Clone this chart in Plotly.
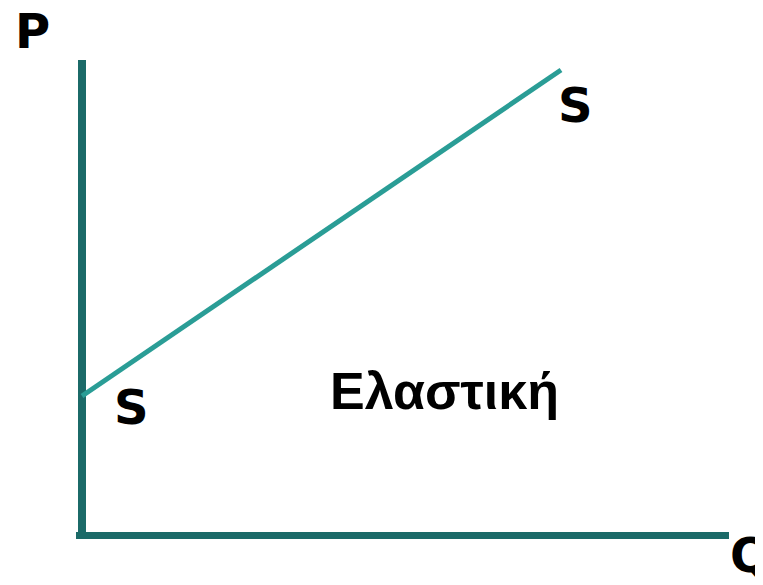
import plotly.graph_objects as go

# Data coordinates (Q horizontal, P vertical)
supply_q = [0.0, 47.9]
supply_p = [13.95, 46.55]
vaxis_q = [0.0, 0.0]
vaxis_p = [-0.25, 47.55]
haxis_q = [-0.6, 64.7]
haxis_p = [0.0, 0.0]

labels = ["P", "Q", "S", "S", "Ελαστική"]
label_q = [-5.0, 66.8, 4.9, 49.3, 36.2]
label_p = [50.45, -1.95, 12.85, 43.1, 14.45]

AXIS_COLOR = "#1b6a68"
LINE_COLOR = "#2a9d96"

fig = go.Figure()
fig.add_trace(go.Scatter(x=vaxis_q, y=vaxis_p, mode="lines",
                         line=dict(color=AXIS_COLOR, width=8), hoverinfo="skip"))
fig.add_trace(go.Scatter(x=haxis_q, y=haxis_p, mode="lines",
                         line=dict(color=AXIS_COLOR, width=7), hoverinfo="skip"))
fig.add_trace(go.Scatter(x=supply_q, y=supply_p, mode="lines",
                         line=dict(color=LINE_COLOR, width=5), hoverinfo="skip"))

for i, t in enumerate(labels):
    if t == "Ελαστική":
        font = dict(family="Liberation Sans, Arial, sans-serif", size=52, color="black")
    else:
        font = dict(family="DejaVu Sans, Verdana, sans-serif", size=48, color="black")
    fig.add_annotation(x=label_q[i], y=label_p[i], text="<b>" + t + "</b>", showarrow=False,
                       font=font, xanchor="center", yanchor="middle")

fig.update_layout(
    width=763, height=585,
    margin=dict(l=0, r=0, t=0, b=0),
    paper_bgcolor="white", plot_bgcolor="white",
    showlegend=False,
    xaxis=dict(range=[-7.4, 68.9], visible=False, fixedrange=True),
    yaxis=dict(range=[-5.75, 52.75], visible=False, fixedrange=True),
)
fig.write_html("out.html")
